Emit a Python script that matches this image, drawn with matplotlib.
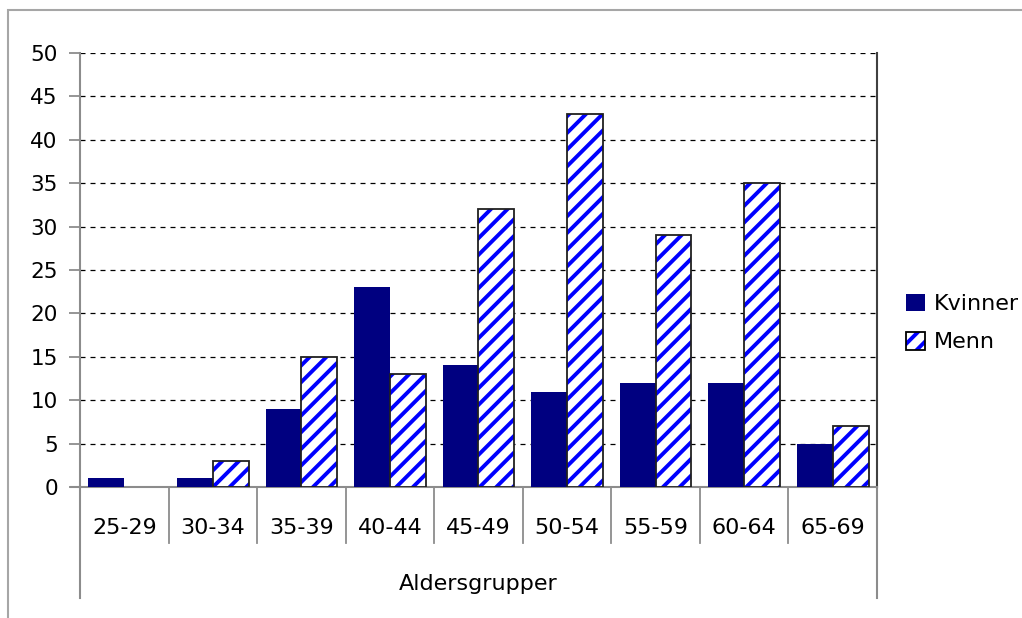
import numpy as np
import matplotlib
matplotlib.use("Agg")
import matplotlib.pyplot as plt
from matplotlib.patches import Patch, Rectangle
from matplotlib.legend_handler import HandlerTuple

# --------------------------------------------------
# Data
# --------------------------------------------------

categories = ["25-29", "30-34", "35-39", "40-44", "45-49", "50-54", "55-59", "60-64", "65-69"]
kvinner = [1, 1, 9, 23, 14, 11, 12, 12, 5]
menn = [0, 3, 15, 13, 32, 43, 29, 35, 7]

# --------------------------------------------------
# Style
# --------------------------------------------------

plt.rcParams["font.family"] = ["DejaVu Sans"]
plt.rcParams["hatch.linewidth"] = 2.8
FS = 16
GRAY = "#8c8c8c"

fig = plt.figure(figsize=(10.22, 6.18), dpi=100)
ax = fig.add_axes([80 / 1022, 1 - 487 / 618, 797 / 1022, 434 / 618])

# outer chart frame (cut off at right / bottom like the reference)
fig.patches.append(Rectangle((8 / 1022, -0.1), 1.2, 1 - 10 / 618 + 0.1,
                             transform=fig.transFigure, fill=False,
                             edgecolor="#a6a6a6", linewidth=1.5))

x = np.arange(len(categories))
w = 0.405

ax.bar(x - w / 2, kvinner, w, color="#000080", zorder=3)
ax.bar(x + w / 2, menn, w, color="white", edgecolor="#0000ff",
       hatch="//", linewidth=0, zorder=3)
ax.bar(x + w / 2, [v if v > 0 else np.nan for v in menn], w, fill=False,
       edgecolor="#202020", linewidth=1.3, zorder=4)

ax.set_xlim(-0.5, len(categories) - 0.5)
ax.set_ylim(0, 50)
ax.set_yticks(range(0, 51, 5))
ax.yaxis.grid(True, linestyle=(0, (4, 4)), color="black", linewidth=0.9, zorder=0)
ax.set_axisbelow(True)

ax.spines["top"].set_visible(False)
ax.spines["left"].set_color(GRAY)
ax.spines["bottom"].set_color(GRAY)
ax.spines["right"].set_color("#404040")
for s in ["left", "bottom", "right"]:
    ax.spines[s].set_linewidth(1.5)

ax.tick_params(axis="y", length=8, width=1.3, color=GRAY, labelsize=FS - 0.5, pad=8)
ax.tick_params(axis="x", length=0, labelbottom=False)

# category labels and separators (multi-level axis look)
trans = ax.get_xaxis_transform()
for i, lab in enumerate(categories):
    ax.text(i, -0.094, lab, transform=trans, ha="center", va="center", fontsize=FS)
for b in np.arange(0.5, len(categories) - 0.5, 1):
    ax.plot([b, b], [0, -0.129], transform=trans, color=GRAY, lw=1.3, clip_on=False)
for b in [-0.5, len(categories) - 0.5]:
    ax.plot([b, b], [0, -0.256], transform=trans, color=GRAY, lw=1.5, clip_on=False)
ax.plot([-0.5 - 0.1, -0.5], [0, 0], transform=trans, color=GRAY, lw=1.5, clip_on=False)

ax.text(0.5, -0.224, "Aldersgrupper", transform=ax.transAxes, ha="center",
        va="center", fontsize=FS)

# legend
h_k = Patch(facecolor="#000080")
h_m = (Patch(facecolor="white", edgecolor="#0000ff", hatch="//", linewidth=0),
       Patch(fill=False, edgecolor="black", linewidth=1.3))
fig.legend([h_k, h_m], ["Kvinner", "Menn"], loc="center left",
           bbox_to_anchor=(886 / 1022, 1 - 323 / 618), frameon=False,
           fontsize=FS, handlelength=0.85, handleheight=0.85, handletextpad=0.4,
           labelspacing=0.8, handler_map={tuple: HandlerTuple(ndivide=1, pad=0)})

fig.savefig("out.png", dpi=100)
